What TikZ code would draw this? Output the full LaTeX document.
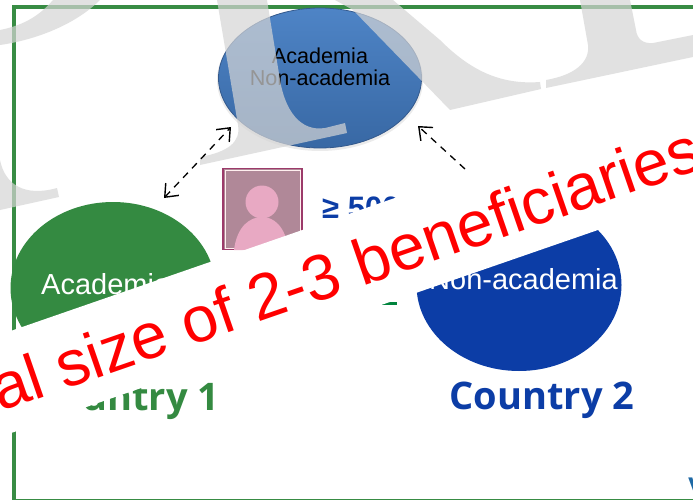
\documentclass[tikz,border=0pt]{standalone}
\usepackage{fontspec}
\setmainfont{Liberation Sans}
\newfontfamily\cfont{Open Sans}
\usetikzlibrary{shapes.geometric,arrows.meta,shadows}
\definecolor{frameG}{HTML}{388C44}
\definecolor{blobG}{HTML}{348A41}
\definecolor{blobB}{HTML}{0C3DA6}
\definecolor{wmGray}{HTML}{D5D5D5}
\definecolor{personPink}{HTML}{E8A9C3}
\definecolor{hubEdge}{HTML}{34598C}
\definecolor{sliver}{HTML}{00843D}
\tikzset{
  blobnode/.style={ellipse,inner sep=0pt,minimum width=205pt,minimum height=172pt},
  sphere/.style={ellipse,inner sep=0pt,minimum width=203pt,minimum height=140pt,draw=hubEdge,line width=.8pt,top color={rgb,255:red,78;green,132;blue,198},bottom color={rgb,255:red,56;green,104;blue,164}},
  lbl/.style={font=\fontsize{21.6}{22}\selectfont,align=center,text=black},
  whitelbl/.style={font=\fontsize{29}{30}\selectfont,text=white,inner sep=0pt},
  ctry/.style={font=\cfont\bfseries\fontsize{38}{40}\selectfont,anchor=base},
  wm/.style={fill=wmGray,fill opacity=.7,draw=none},
  link/.style={draw=black,line width=1.3pt,dash pattern=on 7pt off 6pt},
  tipA/.style={{Straight Barb[length=11pt,width=18pt,line width=1.4pt]}-{Straight Barb[length=11pt,width=18pt,line width=1.4pt]}},
  tipB/.style={-{Straight Barb[length=11pt,width=18pt,line width=1.4pt]}}
}
\begin{document}
\begin{tikzpicture}[x=1pt,y=-1pt]
\useasboundingbox (0,0) rectangle (693,500);
\clip (0,0) rectangle (693,500);
\fill[white] (0,0) rectangle (693,500);
% frame
\draw[frameG,line width=4pt] (14,7) rectangle (740,501);
% blobs
\node[blobnode,fill=blobG] (green) at (113,288) {};
\node[whitelbl,anchor=base west] (acad) at (41,294) {Academia};
\node[blobnode,fill=blobB] (blue) at (519,285) {};
\node[whitelbl,anchor=base east] (nonacad) at (618,289) {Non-academia};
% central sphere
\fill[black,opacity=.08] (320,80) ellipse (103 and 71);
\node[sphere] (hub) at (320,78) {};
\node[lbl] (hubtext) at (320,67) {Academia\\Non-academia};
% person
\node[draw={rgb,255:red,156;green,58;blue,106},line width=1.2pt,fill={rgb,255:red,176;green,136;blue,152},minimum width=79pt,minimum height=81pt,inner sep=0pt] (person) at (262.5,209) {};
\draw[white!75!pink,line width=.7pt] (225.5,170.5) rectangle (300,248);
\fill[personPink] (262,202) circle (16.5);
\fill[personPink] (234,250) .. controls (237,226) and (250,217) .. (262,217) .. controls (274,217) and (285,226) .. (289,250) -- cycle;
% count
\node[anchor=base west,text=blobB,font=\bfseries\fontsize{31}{32}\selectfont,inner sep=0pt] (count) at (322,218) {≥ 500};
\fill[sliver] (380,302) rectangle (397,305);
% country labels
\node[ctry,text=blobG] (c1) at (127,410) {Country 1};
\node[ctry,text=blobB] (c2) at (542,409) {Country 2};
\node[anchor=base west,inner sep=0pt,text={rgb,255:red,30;green,105;blue,165},font=\bfseries\fontsize{27}{28}\selectfont] (vv) at (688,496) {V};
% watermark
\fill[wm] (53,0) .. controls (40,15) and (25,25) .. (0,30) -- (0,45) .. controls (35,40) and (75,25) .. (100,0) -- cycle;
\fill[wm] (0,160) .. controls (5,185) and (25,197) .. (57,188) -- (59,197) -- (0,210) -- cycle;
\fill[wm] (217,0) -- (238,125) .. controls (241,142) and (228,152) .. (200,157) -- (200,165) -- (347,133) -- (345,123) -- (325,128) .. controls (300,132) and (285,110) .. (280,80) -- (267,0) -- cycle;
\fill[wm] (335,0) -- (353,10) -- (450,110) -- (541,89) -- (540,82) .. controls (500,85) and (470,70) .. (440,40) -- (393,0) -- cycle;
\fill[wm] (546,88) -- (693,57) -- (693,35) -- (653,43) .. controls (642,44) and (637,38) .. (636,30) -- (630,0) -- (580,0) -- (588,45) .. controls (590,62) and (575,75) .. (546,80) -- cycle;
% connectors
\coordinate (a1) at (164,198);
\coordinate (a2) at (231,127);
\coordinate (b1) at (465,169);
\coordinate (b2) at (418,126);
\draw[link,tipA] (a1) -- (a2);
\draw[link,tipB] (b1) -- (b2);
% band
\fill[white] (-20,341.6) -- (730,82) -- (730,184.3) -- (-20,443.8) -- cycle;
\node[anchor=base west,rotate=19.1,text=red,font=\fontsize{64.5}{66}\selectfont,inner sep=0pt] (banner) at (0,412) {al size of 2-3 beneficiaries};
\end{tikzpicture}
\end{document}
